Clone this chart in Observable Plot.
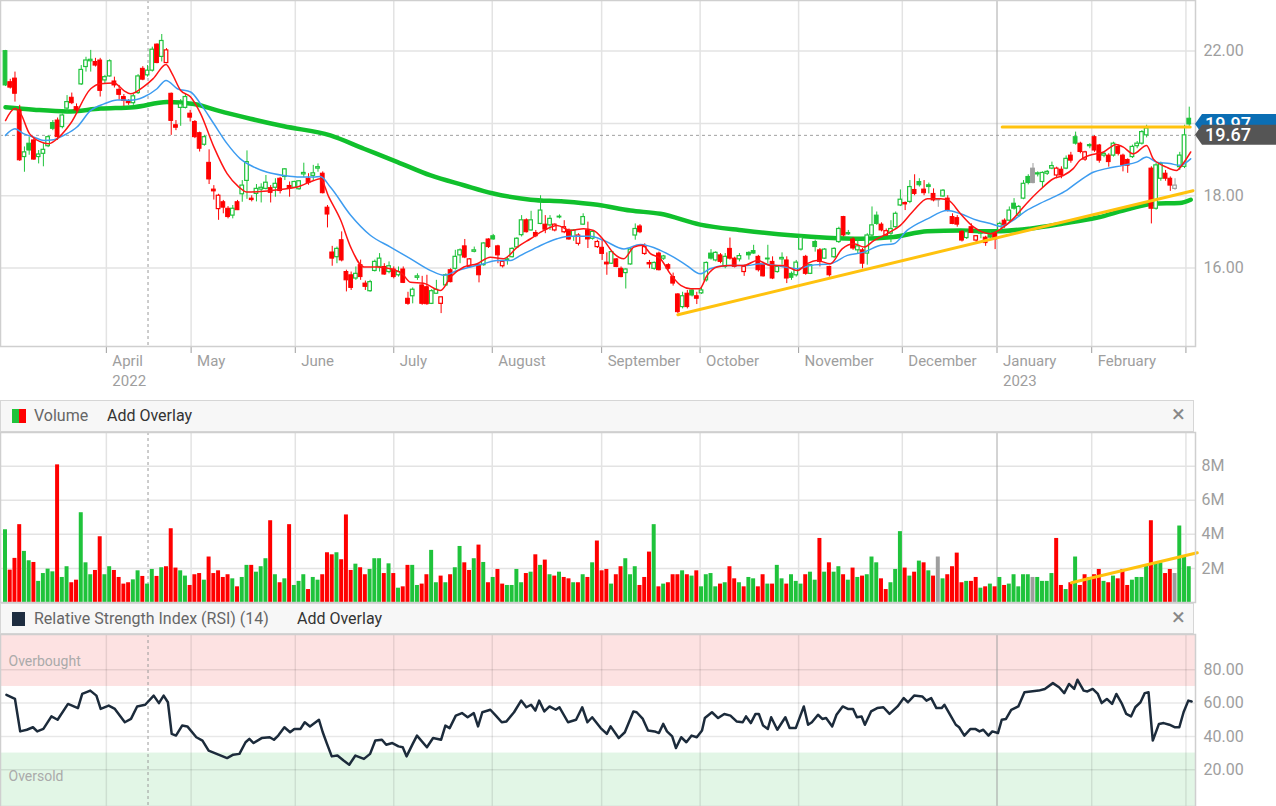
<!DOCTYPE html>
<html><head><meta charset="utf-8">
<script src="https://cdn.jsdelivr.net/npm/d3@7"></script>
<script src="https://cdn.jsdelivr.net/npm/@observablehq/plot@0.6"></script>
<style>
body{margin:0;background:#fff;font-family:Roboto,sans-serif;}
#wrap{position:relative;width:1276px;height:806px;overflow:hidden;background:#fff;}
.panel{position:absolute;left:0;}
.hdr{position:absolute;left:0;width:1194px;background:#f7f7f7;border:1px solid #d6d6d6;box-sizing:border-box;font-size:16px;line-height:29px;}
.hdr .icon{position:absolute;left:11px;width:14px;height:14px;}
.hdr .name{position:absolute;left:33px;top:0;color:#666;}
.hdr .add{position:absolute;top:0;color:#333;}
.hdr .x{position:absolute;left:1171px;top:-1px;color:#888;font-size:24px;}
</style></head>
<body><div id="wrap">
<div id="price" class="panel" style="top:0"></div>
<div class="hdr" style="top:400px;height:32px;">
  <div class="icon" style="top:8px;background:linear-gradient(90deg,#1fc33b 50%,#ff0000 50%);"></div>
  <span class="name">Volume</span><span class="add" style="left:106px">Add Overlay</span><span class="x">×</span>
</div>
<div id="volume" class="panel" style="top:432px"></div>
<div class="hdr" style="top:603px;height:31px;">
  <div class="icon" style="top:8px;width:13px;height:14px;background:#1e2d40;"></div>
  <span class="name">Relative Strength Index (RSI) (14)</span><span class="add" style="left:296px">Add Overlay</span><span class="x">×</span>
</div>
<div id="rsi" class="panel" style="top:634px"></div>
</div>
<script>
// ---------- DATA ----------
const open = [
22.0,21.14,21.24,20.36,19.07,19.44,19.53,19.07,19.16,19.37,
20.01,20.08,19.9,20.41,20.71,20.45,21.08,21.56,21.72,21.7,
21.74,21.19,21.3,21.16,20.93,20.73,20.62,20.56,20.84,21.51,
21.33,21.46,22.18,21.84,21.67,20.82,19.95,20.43,20.43,20.27,
20.04,19.73,19.41,18.91,18.17,17.63,17.82,17.64,17.45,17.82,
18.04,18.41,17.92,18.05,18.17,18.19,18.21,18.22,18.47,18.52,
18.27,18.22,18.18,18.59,18.47,18.55,18.75,18.61,17.67,
16.43,16.3,16.77,15.89,15.8,15.71,16.08,15.57,15.36,15.92,16.03,
16.03,15.89,15.96,15.8,15.96,15.15,15.22,15.73,15.52,15.47,
15.01,15.29,15.01,15.52,15.94,15.98,16.35,16.6,16.03,16.45,
16.08,16.08,16.79,16.88,16.6,16.05,16.21,16.3,16.57,16.91,
17.32,17.04,16.97,17.22,17.2,17.18,17.04,17.4,16.99,17.04,
16.86,16.67,17.2,17.04,16.81,16.58,16.56,16.15,16.12,16.24,
15.98,15.86,16.1,16.9,17.15,16.39,16.14,15.98,16.4,
16.26,16.08,15.75,15.27,14.92,15.29,15.38,15.22,15.3,15.66,
16.4,16.21,16.35,16.03,16.53,16.26,
16.24,15.89,16.42,16.47,16.31,16.08,16.24,16.17,15.89,16.24,
16.21,15.84,15.8,16.51,16.31,15.84,16.72,16.49,16.26,16.03,
16.3,16.72,17.41,16.97,16.79,16.49,16.49,16.4,16.9,17.45,
17.2,16.9,16.95,17.13,17.73,17.8,17.83,18.16,18.38,18.17,
18.29,18.05,17.89,17.98,17.92,17.41,
17.38,17.0,16.83,17.13,16.76,17.0,16.84,16.95,16.95,
17.04,17.31,17.31,17.78,17.45,17.92,18.52,18.75,18.59,18.38,
18.61,18.75,18.56,18.72,18.75,19.11,19.62,19.44,19.0,19.37,
19.62,19.39,19.11,19.11,19.11,19.35,19.11,18.99,19.07,19.37,
19.44,19.67,18.75,17.64,18.47,18.61,18.47,18.19,18.79,18.8,20.13];
const high = [
22.02,21.22,21.42,20.5,19.35,19.62,19.6,19.25,19.44,19.66,
20.08,20.15,20.26,20.77,20.84,20.54,21.6,21.83,22.02,21.8,
21.8,21.33,21.76,21.28,21.05,20.8,20.66,20.8,21.35,21.57,
21.6,22.11,22.2,22.46,22.07,20.84,20.08,20.66,20.8,20.36,
20.08,19.76,19.67,19.27,18.28,18.04,17.87,17.7,17.73,17.87,
18.42,19.24,18.0,18.31,18.33,18.56,18.28,18.47,18.51,18.75,
18.38,18.4,18.42,18.9,18.61,18.84,18.88,18.66,17.73,
16.6,16.58,17.0,15.94,15.89,16.03,16.22,15.64,15.66,16.22,16.4,
16.12,16.17,16.03,16.03,16.03,15.33,15.45,15.84,15.77,15.8,
15.4,15.66,15.2,15.84,15.98,16.49,16.53,16.79,16.26,16.58,
16.12,16.7,16.81,16.93,16.63,16.21,16.3,16.56,16.84,17.45,
17.36,17.57,17.04,18.0,17.45,17.45,17.22,17.47,17.31,17.08,
17.06,16.95,17.5,17.27,17.04,16.77,16.77,16.42,16.47,16.26,
16.03,15.98,16.54,17.22,17.2,16.67,16.21,16.17,16.44,
16.35,16.12,15.86,15.29,15.33,15.38,15.43,15.33,15.47,16.17,
16.51,16.45,16.4,16.4,16.83,16.3,
16.4,16.08,16.45,16.63,16.35,16.1,16.63,16.31,16.05,16.42,
16.31,15.89,16.21,16.9,16.35,16.1,16.77,16.54,16.54,16.05,
16.56,17.13,17.43,17.04,16.84,16.79,16.54,16.95,17.69,17.55,
17.25,17.08,17.31,17.55,18.16,17.83,18.42,18.58,18.47,18.42,
18.35,18.19,17.89,18.17,18.0,17.5,
17.45,17.04,17.0,17.22,16.9,17.04,16.88,17.02,17.0,
17.27,17.36,17.69,17.92,17.73,18.42,18.58,18.89,18.66,18.66,
18.7,18.93,18.79,18.8,19.1,19.2,19.76,19.48,19.23,19.44,
19.66,19.42,19.2,19.16,19.48,19.4,19.15,19.02,19.4,19.5,
19.8,19.95,18.8,18.9,18.93,18.7,18.52,18.47,19.2,19.95,20.45];
const low = [
21.02,20.95,20.59,18.95,18.65,19.12,18.98,18.88,18.8,19.33,
19.8,19.53,19.85,20.27,20.52,20.32,21.05,21.42,21.42,21.56,
20.73,21.1,21.28,20.98,20.64,20.47,20.5,20.5,20.8,21.18,
21.28,21.42,21.65,21.7,21.65,19.67,19.8,19.92,20.4,20.04,
19.58,19.21,19.37,18.31,17.88,17.32,17.5,17.36,17.36,17.59,
17.82,17.9,17.83,17.83,17.8,18.16,17.8,17.96,18.05,18.42,
17.96,18.2,18.15,18.5,18.29,18.42,18.65,18.05,17.11,
16.05,16.12,16.17,15.34,15.38,15.66,15.66,15.38,15.33,15.89,15.89,
15.8,15.84,15.7,15.75,15.57,14.97,15.01,15.66,14.97,14.97,
14.99,15.27,14.74,15.49,15.59,15.94,16.12,16.26,16.0,16.42,
15.59,16.05,16.54,16.77,16.12,16.0,16.08,16.28,16.55,16.86,
16.97,17.02,16.84,17.2,16.95,17.04,17.0,17.36,16.95,16.77,
16.74,16.61,17.18,16.54,16.77,16.54,16.21,15.8,16.1,16.01,
15.73,15.42,16.08,16.77,16.95,16.35,15.98,15.94,15.92,
16.21,15.94,15.5,14.74,14.87,14.87,15.2,14.99,15.27,15.61,
16.22,16.17,16.12,15.98,16.22,16.0,
16.17,15.77,16.22,16.38,15.89,15.75,16.12,15.68,15.86,16.08,
15.57,15.66,15.75,16.47,15.8,15.82,16.44,16.03,16.24,15.75,
16.26,16.68,16.86,16.9,16.49,16.4,15.98,16.08,16.86,17.18,
17.0,16.88,16.7,17.1,17.7,17.59,17.78,18.0,18.24,18.0,
18.05,17.83,17.68,17.96,17.55,17.2,
17.13,16.72,16.79,16.97,16.67,16.81,16.6,16.82,16.51,
17.0,17.1,17.27,17.6,17.4,17.89,18.3,18.33,18.52,18.2,
18.56,18.72,18.47,18.47,18.72,18.9,19.4,19.16,18.95,19.3,
19.2,18.9,19.05,18.79,19.07,19.1,18.66,18.62,19.03,19.3,
19.4,19.6,17.22,17.6,18.4,18.4,18.12,18.15,18.7,18.75,19.9];
const close = [
21.05,20.99,20.82,18.98,19.2,19.25,19.0,19.14,19.27,19.62,
19.85,19.62,20.22,20.59,20.56,20.36,21.48,21.74,21.76,21.6,
20.9,21.28,21.72,21.05,20.79,20.62,20.56,20.75,21.3,21.21,
21.46,22.04,21.67,22.28,22.02,20.07,19.88,20.53,20.73,20.16,
19.62,19.3,19.62,18.45,18.12,18.0,17.67,17.41,17.64,17.6,
18.28,18.93,17.88,18.19,18.22,18.36,18.08,18.33,18.13,18.73,
18.21,18.38,18.4,18.63,18.35,18.62,18.79,18.07,17.48,
16.26,16.53,16.21,15.66,15.45,15.84,15.75,15.48,15.61,16.17,16.26,
15.82,16.05,15.75,15.89,15.59,15.01,15.4,15.77,15.01,15.0,
15.36,15.4,15.19,15.8,15.61,16.31,16.49,16.29,16.24,16.49,
15.8,16.68,16.58,16.79,16.35,16.17,16.24,16.53,16.81,17.32,
16.99,17.32,16.88,17.59,17.06,17.36,17.2,17.42,17.13,16.79,
17.04,16.9,17.41,16.79,17.0,16.72,16.39,16.1,16.44,16.03,
15.75,15.96,16.51,17.08,16.99,16.58,16.1,16.14,15.94,
16.32,15.98,15.57,14.78,15.22,14.92,15.24,15.15,15.38,16.14,
16.26,16.42,16.17,16.31,16.26,16.03,
16.33,16.03,16.35,16.4,15.94,15.77,16.26,15.71,16.03,16.28,
15.71,15.73,16.15,16.84,15.84,16.08,16.58,16.17,16.51,15.8,
16.53,17.08,16.9,16.93,16.54,16.6,16.12,16.9,17.18,17.22,
17.04,17.02,17.08,17.5,17.89,17.76,18.24,18.05,18.29,18.07,
18.24,17.87,17.87,18.14,17.59,17.22,
17.2,16.76,16.99,16.97,16.88,16.95,16.69,16.84,16.79,
17.22,17.18,17.59,17.64,17.69,18.33,18.35,18.35,18.62,18.63,
18.66,18.82,18.75,18.56,19.02,18.97,19.44,19.21,19.2,19.4,
19.25,18.97,19.16,18.93,19.44,19.16,18.84,18.83,19.35,19.44,
19.76,19.86,17.64,18.84,18.88,18.47,18.28,18.28,19.11,19.67,19.97];
// day direction vs previous close: G up, R down, N unchanged
const trend = ("GRRRGGRGGG"+"GRGGRRGGGR"+"RGGRRRRGGR"+"GGRGRRRGGR"+"RRGRRRRRGR"+
  "GGRGGGRGRG"+"RGGGRGGRRR"+"GRRRGRRGGG"+"RGRGRRGGRR"+"GGRGRGGRRG"+
  "RGRGRRGGGG"+"RGRGRGRGRR"+"GRGRGRRRGR"+"RGGGRRRGRG"+"RRRGRGRGGG"+
  "GRGRRGRGGR"+"RGRGGRGGGR"+"GGRGRGGRGR"+"GRGGGRRGGG"+"RGRGRGRNGR"+
  "RRRGRRGRGR"+"GRGGGGGNGG"+"GGRRGRGRRG"+"RRGRGRRRGG"+"GGRGGRRNGGG").split("");
// volume in millions
const volume = [4.27,1.9,2.59,4.57,3.0,2.45,2.35,1.24,1.7,1.96,
1.8,8.08,1.47,2.1,1.16,1.31,5.27,2.33,1.63,1.88,
3.86,1.63,2.1,1.88,1.47,1.08,1.16,1.33,1.86,1.53,
1.08,1.94,1.53,2.04,2.1,4.33,2.02,1.86,1.55,1.0,
1.63,1.7,1.31,2.67,1.7,1.86,1.47,1.63,1.39,0.92,
1.47,2.18,2.18,1.78,2.1,2.57,4.8,1.63,1.16,1.39,
4.57,1.0,1.24,1.63,0.76,1.47,1.31,1.63,2.92,2.8,
2.92,2.51,5.14,1.88,2.25,2.04,1.63,1.94,2.57,2.57,
1.7,2.27,1.7,0.84,0.92,2.18,2.18,1.0,1.08,1.63,
3.06,1.16,1.55,1.16,1.63,2.04,3.29,2.33,1.88,2.57,
3.37,2.35,1.16,1.47,1.94,1.08,1.0,1.0,1.94,1.16,
1.7,1.78,2.8,2.18,2.49,1.63,1.55,1.78,1.47,1.39,
1.16,1.16,1.63,1.47,2.33,3.61,1.86,1.94,1.08,1.63,
2.1,2.57,1.63,2.1,1.0,
1.47,2.96,4.57,0.92,1.08,1.16,1.63,1.63,1.86,1.63,
1.55,1.86,0.92,1.63,1.7,0.92,1.08,1.16,2.1,1.39,
1.16,0.92,1.47,1.39,0.92,1.63,1.08,1.08,2.18,1.39,
1.08,1.63,1.24,1.08,1.63,1.78,1.31,3.76,1.78,2.33,
1.78,2.1,1.63,1.31,2.02,1.47,1.55,1.63,2.67,2.33,
1.39,0.76,1.16,1.94,4.16,2.02,1.55,1.78,2.43,2.33,
1.86,1.55,2.67,1.39,1.63,2.1,2.9,1.16,1.24,1.24,
1.47,0.84,0.92,1.08,0.92,1.47,1.0,1.08,1.63,0.92,
1.63,1.63,1.47,1.47,1.24,1.24,1.7,3.76,1.0,0.76,
1.16,2.67,1.0,1.63,1.47,1.63,1.94,1.24,1.16,1.55,
1.39,1.94,1.0,1.31,1.47,1.47,2.18,4.8,2.33,2.33,
1.7,1.94,1.7,4.49,2.67,2.1];
// moving averages: [day, value]
const ma10 = [[0,20.08],[2,20.41],[3.2,20.27],[5.1,19.71],[8.1,19.46],[9.1,19.44],[11.3,19.62],[13.7,19.99],[18,20.96],[20.1,21.1],[22.9,21.12],[25,20.91],[26.4,20.82],[29.2,21.02],[31.2,21.24],[33.9,21.63],[35.2,21.37],[37,20.91],[39.1,20.73],[41.2,20.27],[44,19.35],[46.8,18.61],[49.3,18.24],[51,18.1],[55.3,18.13],[58.1,18.17],[61.6,18.24],[65.1,18.42],[66.5,18.47],[68.3,17.96],[70.8,17.32],[72.9,16.58],[75.7,16.03],[78.5,16.03],[81.3,15.98],[83.8,15.84],[85.5,15.61],[88.3,15.58],[91.9,15.38],[94,15.75],[96.8,16.03],[99.6,16.12],[102.4,16.3],[105.2,16.26],[108.1,16.58],[110.9,16.81],[113.7,17.04],[116.5,17.18],[119.3,17.04],[122.1,17.09],[124.2,17.04],[126.4,16.76],[128.5,16.4],[130.6,16.26],[132.7,16.58],[134.5,16.63],[136.2,16.4],[138.3,16.26],[140.4,15.84],[142.6,15.52],[144.7,15.43],[146.6,15.43],[148.2,15.8],[150.3,16.03],[153.1,16.07],[155.9,16.07],[158.8,16.21],[161.6,16.07],[164.4,16.07],[167.2,15.93],[169.3,16.12],[171.4,16.21],[174.2,16.12],[176.7,16.53],[179.2,16.67],[181.3,16.58],[183.4,16.76],[186.2,16.95],[189,17.18],[191.8,17.59],[194.7,17.92],[197.5,17.92],[199.2,17.87],[201.7,17.5],[204.5,17.13],[208,16.95],[210.3,17.09],[212.8,17.36],[215.6,17.78],[218.4,18.15],[221.3,18.47],[223.4,18.56],[225.5,18.75],[226.9,18.98],[229,19.12],[231.9,19.21],[234.6,19.42],[236,19.35],[238.2,19.16],[241,19.39],[242.4,19.02],[245.2,18.79],[247.3,18.7],[248.7,18.89],[250.3,19.21]];
const ma20 = [[0,19.67],[2,19.85],[3.9,19.71],[6,19.62],[8.1,19.53],[10.2,19.55],[12.3,19.67],[15.1,19.9],[18,20.36],[20.8,20.54],[23.6,20.65],[26.4,20.64],[29.2,20.73],[32,20.96],[33.9,21.19],[36.3,20.96],[39.1,20.87],[41.2,20.54],[44,19.99],[46.8,19.44],[49.6,19.02],[52.5,18.79],[55.3,18.65],[58.8,18.56],[61.6,18.52],[65.1,18.52],[66.5,18.53],[68.6,18.24],[72.9,17.46],[77.1,16.9],[81.3,16.58],[85.5,16.26],[89.8,15.93],[92.6,15.8],[95.4,15.93],[98.2,16.03],[101,16.12],[103.8,16.21],[106.7,16.21],[108.8,16.35],[112.3,16.58],[116.5,16.81],[119.3,16.88],[123.5,16.88],[126.4,16.76],[130.6,16.53],[134.1,16.65],[138.3,16.49],[141.1,16.3],[143.9,16.07],[146.7,15.84],[148.8,15.98],[152.4,16.07],[156.6,16.07],[159.4,16.12],[163.7,16.05],[167.2,15.98],[170,16.07],[174.2,16.12],[177.8,16.35],[181.3,16.44],[184.8,16.63],[187.6,16.67],[190.4,17.04],[194.7,17.36],[198.9,17.59],[201.7,17.5],[205.2,17.32],[208,17.23],[210.2,17.15],[212.8,17.32],[215.6,17.59],[218.4,17.78],[221.3,17.96],[224.1,18.15],[226.9,18.42],[229.7,18.65],[232.5,18.75],[236,18.84],[238.9,18.93],[241,19.07],[243.1,18.93],[245.9,18.89],[248,18.84],[250.3,19.02]];
const ma100 = [[0,20.45],[6,20.38],[13,20.33],[20.1,20.41],[27.1,20.45],[34.1,20.59],[39.8,20.54],[44.7,20.36],[51.7,20.13],[58.8,19.92],[68.6,19.67],[75.7,19.3],[82.8,18.93],[89.8,18.56],[96.8,18.29],[102.8,18.07],[110.9,17.89],[117.9,17.84],[125,17.75],[132,17.59],[138.3,17.5],[146.7,17.2],[155.9,17.04],[166.5,16.9],[173.5,16.84],[180.6,16.81],[187.6,16.86],[194.7,17.02],[201.7,17.04],[205.6,17.02],[209.3,17.02],[216.3,17.09],[223.4,17.23],[230.4,17.39],[237.4,17.64],[242.4,17.78],[248,17.8],[250.3,17.89]];
// RSI(14): [day, value]
const rsi = [[0.2,65],[2,62.5],[3.1,43],[4.5,44],[5.8,45.5],[6.7,43],[8,44.5],[9.7,52],[11,50],[13.2,59.5],[15.3,57],[16.2,65.5],[17.9,67.5],[19.2,64.5],[20.1,56.5],[21.8,58.5],[23.1,56.5],[25.2,48.5],[26.5,50.5],[27.8,58],[29.5,59],[31.3,64.5],[32.4,60],[33.4,64.5],[34.3,60.5],[35.1,41.5],[36,40.5],[37.3,46.5],[38.4,46],[40.3,39.5],[41.6,37.5],[42.9,31.5],[44.2,30],[45.5,28.5],[46.8,27],[48.1,29],[49.4,29.5],[50.7,36.5],[51.5,38.5],[52.4,36],[54.1,39],[55.8,39.5],[56.7,38],[57.6,40.5],[58.9,45.5],[60.1,42.5],[61,44.5],[62.3,44.5],[63.2,48.5],[64.3,46],[66.2,50],[67,42.5],[67.9,35.5],[68.9,28],[70.1,28.5],[71.4,25.5],[72.6,23],[73.9,28.5],[75.7,26.5],[77,29.5],[78.1,37.5],[79.5,38],[80.4,35],[81.7,36],[83,34],[83.9,33.5],[84.7,28],[86,35.5],[86.9,40.5],[89,33.5],[90.3,39],[92,38],[92.9,46.5],[93.8,45],[95.1,52.5],[96.4,54],[97.6,51.5],[98.9,54],[99.8,46],[100.7,54.5],[102.4,56],[103.7,52],[104.8,48.5],[105.8,49],[107.4,54.5],[108.9,61.5],[110,57.5],[111,59],[111.9,55.5],[112.7,61.5],[113.8,55],[114.9,58],[116.2,56],[117,57.5],[118.8,48.5],[120.5,50],[121.8,57.5],[122.9,48.5],[123.9,51.5],[125.7,45],[127,41.5],[127.8,46],[129.5,39],[130.8,42.5],[132.6,55],[133.3,54.5],[134.6,50.5],[135.7,43.5],[137.1,43],[138,42],[138.9,47.5],[139.7,43],[140.8,40],[141.6,33],[142.7,39.5],[143.8,36.5],[144.9,40.5],[146,39.5],[147.1,43.5],[147.7,51],[149.2,54.5],[150.5,51],[151.8,53.5],[153.1,52.5],[154.4,49],[155.7,48.5],[156.4,52],[157.4,48],[158.4,53.5],[159.1,53.5],[160,46.5],[161,44.5],[161.7,51.5],[163,44],[164.7,51.5],[165.6,45],[166.9,45],[168.6,58],[169.5,47],[170.3,48.5],[171.6,53],[172.5,50.5],[173.3,51],[174.6,46],[175.5,53],[176.8,58],[177.9,56.5],[179,56.5],[179.8,51.5],[180.8,52],[181.5,47],[182.8,55],[184.1,57],[185.4,57.5],[186.7,53.5],[188.4,58],[189.7,63],[190.6,60.5],[191.9,64.5],[193.6,64],[194.5,61.5],[195.5,63],[196.6,57],[197.7,57],[198.3,59],[199.6,52.5],[200.7,47],[201.4,45.5],[202.5,40.5],[203.8,44.5],[204.8,44.5],[205.7,43],[206.5,44],[207.6,40.5],[208.4,43],[209.6,42],[210.4,50],[211.3,50.5],[212.4,56],[213.9,58],[215.2,66.5],[216.5,67],[218.2,67.5],[219.5,68.5],[221.2,72],[222.5,69.5],[223.6,66],[224.6,71.5],[225.7,68.5],[226.4,74],[227.7,67.5],[228.5,67],[229.6,68.5],[230.7,65.5],[231.5,60],[232.6,62.5],[233.7,59.5],[234.6,65.5],[235.8,59.5],[236.7,53.5],[237.7,52],[238.6,57.5],[239.7,60.5],[240.6,66],[241.4,66.5],[242.3,37.5],[243.6,47.5],[244.6,48],[245.8,47],[246.9,45.5],[247.9,45.5],[248.8,54.5],[249.8,61.5],[250.5,61]];
// drawn trend lines
const supportLine = [[142.0,14.71],[250.8,18.14]];
const resistanceLine = [[210.5,19.9],[250.2,19.9]];
const volumeTrendLine = [[225.1,1.16],[251.7,2.92]];
// axis ticks
const monthDays = [21.3,39.2,61.2,82.0,102.8,125.9,146.7,167.5,189.4,209.4,229.4,249.3];
const monthLabels = ["April\n2022","May","June","July","August","September","October","November","December","January\n2023","February",""];
const yearStartDay = 209.4;
const crosshairDay = 30.1;
const priceGrid = [16,18,20,22];
const priceLabels = [16,18,22];   // 20.00 sits under the price tags
const volumeTicks = [2,4,6,8];
const rsiTicks = [20,40,60,80];
const lastClose = 19.97, prevClose = 19.67;

// ---------- CHARTS ----------
const W = 1276, MR = 81;
const xDomain = [-1.056, 251.32];
const UP = "#1fc33b", DOWN = "#ff0000", FLAT = "#9e9e9e";
const colorOf = t => t === "G" ? UP : t === "R" ? DOWN : FLAT;
const GRID = "#e3e3e3";
const style = {fontFamily:"Roboto, sans-serif", fontSize:"16px", color:"#9e9e9e", background:"transparent", overflow:"visible"};

const days = d3.range(open.length).map(i => ({i, o:open[i], h:high[i], l:low[i], c:close[i], t:trend[i], v:volume[i]}));
const months = monthDays.map((d,i) => ({d, label:monthLabels[i]}));
const regularMonths = monthDays.filter(d => d !== yearStartDay);

function candleMarks() {
  const marks = [];
  for (const t of ["G","R","N"]) {
    const col = colorOf(t);
    const grp = days.filter(d => d.t === t);
    marks.push(Plot.ruleX(grp, {x:"i", y1:"l", y2:"h", stroke:col, strokeWidth:1}));
    marks.push(Plot.rect(grp.filter(d => d.c <= d.o), {x1:d=>d.i-0.4, x2:d=>d.i+0.4, y1:"c", y2:"o", fill:col, stroke:col, strokeWidth:1}));
    marks.push(Plot.rect(grp.filter(d => d.c > d.o), {x1:d=>d.i-0.38, x2:d=>d.i+0.38, y1:"o", y2:"c", fill:"#fff", stroke:col, strokeWidth:1.2}));
  }
  return marks;
}

const price = Plot.plot({
  width:W, height:400, marginLeft:0, marginRight:MR, marginTop:0, marginBottom:54, style,
  x:{domain:xDomain, axis:"bottom", ticks:monthDays, tickFormat:()=>"", tickSize:7, label:null},
  y:{domain:[13.83,23.40], axis:"right", ticks:priceLabels, tickFormat:d=>d.toFixed(2), tickSize:0, tickPadding:8, label:null},
  marks:[
    Plot.ruleY(priceGrid, {stroke:GRID, strokeWidth:1.5}),
    Plot.ruleX(regularMonths, {stroke:GRID, strokeWidth:1.5}),
    Plot.ruleX([yearStartDay], {stroke:"#a8a8a8", strokeWidth:1}),
    Plot.ruleX([crosshairDay], {stroke:"#9a9a9a", strokeDasharray:"3,3"}),
    Plot.ruleY([prevClose], {stroke:"#a0a0a0", strokeDasharray:"3,3"}),
    Plot.line(ma100, {x:d=>d[0], y:d=>d[1], stroke:"#10c02c", strokeWidth:4.5, curve:"monotone-x"}),
    ...candleMarks(),
    Plot.line(ma20, {x:d=>d[0], y:d=>d[1], stroke:"#3d9cf0", strokeWidth:1.5, curve:"monotone-x"}),
    Plot.line(ma10, {x:d=>d[0], y:d=>d[1], stroke:"#ff1414", strokeWidth:1.5, curve:"monotone-x"}),
    Plot.line(supportLine, {x:d=>d[0], y:d=>d[1], stroke:"#ffc20e", strokeWidth:3}),
    Plot.line(resistanceLine, {x:d=>d[0], y:d=>d[1], stroke:"#ffc20e", strokeWidth:3}),
    Plot.frame({stroke:"#cfcfcf", strokeWidth:1.5}),
    Plot.text(months, {x:"d", text:"label", frameAnchor:"bottom", dy:6, dx:6, lineAnchor:"top", textAnchor:"start", lineHeight:1.3, fill:"#9e9e9e", fontSize:15})
  ]
});
document.getElementById("price").append(price);

// price tags (last close and previous close)
{
  const ys = price.scale("y");
  const svg = d3.select(price);
  const x0 = W - MR;
  function tag(v, fill) {
    const yc = ys.apply(v), h = 10;
    svg.append("path").attr("d", `M${x0},${yc}L${x0+7},${yc-h}H${W}V${yc+h}H${x0+7}Z`).attr("fill", fill);
    svg.append("text").attr("x", x0+10).attr("y", yc).attr("dy","0.36em").attr("fill","#fff")
      .attr("text-anchor","start").attr("font-size", 18).attr("font-family","Roboto, sans-serif")
      .attr("font-weight",500).text(v.toFixed(2));
  }
  tag(lastClose, "#0b6eb4");
  tag(prevClose, "#555555");
}

function volBars() {
  return ["G","R","N"].map(t => Plot.rectY(days.filter(d => d.t === t),
    {x1:d=>d.i-0.42, x2:d=>d.i+0.42, y1:0, y2:"v", fill:colorOf(t)}));
}
const vol = Plot.plot({
  width:W, height:170, marginLeft:0, marginRight:MR, marginTop:0, marginBottom:0, style,
  x:{domain:xDomain, axis:null},
  y:{domain:[0,9.98], axis:"right", ticks:volumeTicks, tickFormat:d=>d+"M", tickSize:0, tickPadding:6, label:null},
  marks:[
    Plot.ruleY(volumeTicks, {stroke:GRID, strokeWidth:1.5}),
    Plot.ruleX(regularMonths, {stroke:GRID, strokeWidth:1.5}),
    Plot.ruleX([yearStartDay], {stroke:"#a8a8a8", strokeWidth:1}),
    Plot.ruleX([crosshairDay], {stroke:"#9a9a9a", strokeDasharray:"3,3"}),
    ...volBars(),
    Plot.line(volumeTrendLine, {x:d=>d[0], y:d=>d[1], stroke:"#ffc20e", strokeWidth:3}),
    Plot.frame({stroke:"#cfcfcf", strokeWidth:1.5})
  ]
});
document.getElementById("volume").append(vol);

const rsiMin = -2.1, rsiMax = 101.2;
const rsiChart = Plot.plot({
  width:W, height:172, marginLeft:0, marginRight:MR, marginTop:0, marginBottom:0, style,
  x:{domain:xDomain, axis:null},
  y:{domain:[rsiMin, rsiMax], axis:"right", ticks:rsiTicks, tickFormat:d=>d.toFixed(2), tickSize:0, tickPadding:8, label:null},
  marks:[
    Plot.rectY([{a:70, b:rsiMax}], {x1:xDomain[0], x2:xDomain[1], y1:"a", y2:"b", fill:"#fde2e2"}),
    Plot.rectY([{a:rsiMin, b:30}], {x1:xDomain[0], x2:xDomain[1], y1:"a", y2:"b", fill:"#e2f6e6"}),
    Plot.ruleY(rsiTicks, {stroke:"#000", strokeOpacity:0.09, strokeWidth:1.5}),
    Plot.ruleX(regularMonths, {stroke:"#000", strokeOpacity:0.09, strokeWidth:1.5}),
    Plot.ruleX([yearStartDay], {stroke:"#a0a0a0", strokeWidth:1}),
    Plot.ruleX([crosshairDay], {stroke:"#9a9a9a", strokeDasharray:"3,3"}),
    Plot.text(["Overbought"], {frameAnchor:"top-left", dx:8, dy:22, textAnchor:"start", fill:"#aaa", fontSize:14}),
    Plot.text(["Oversold"], {frameAnchor:"bottom-left", dx:8, dy:-26, textAnchor:"start", fill:"#aaa", fontSize:14}),
    Plot.line(rsi, {x:d=>d[0], y:d=>d[1], stroke:"#1c2b3b", strokeWidth:2.5, strokeLinejoin:"round"}),
    Plot.frame({stroke:"#cfcfcf", strokeWidth:1.5})
  ]
});
document.getElementById("rsi").append(rsiChart);
</script>
</body></html>
